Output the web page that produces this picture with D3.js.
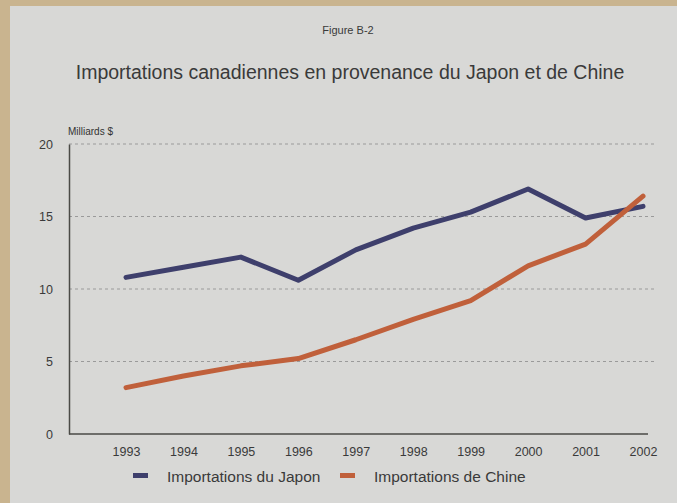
<!DOCTYPE html>
<html>
<head>
<meta charset="utf-8">
<script src="https://cdn.jsdelivr.net/npm/d3@7"></script>
<style>
  body { margin: 0; background: #c9b48f; }
  svg { display: block; font-family: "Liberation Sans", Arial, sans-serif; }
</style>
</head>
<body>
<div id="chart"></div>
<script>
let years = [1993, 1994, 1995, 1996, 1997, 1998, 1999, 2000, 2001, 2002];
let japon = [10.8, 11.5, 12.2, 10.6, 12.7, 14.2, 15.3, 16.9, 14.9, 15.7];
let chine = [3.2, 4.0, 4.7, 5.2, 6.5, 7.9, 9.2, 11.6, 13.1, 16.4];
let yTicks = [0, 5, 10, 15, 20];
let seriesNames = ["Importations du Japon", "Importations de Chine"];
let seriesColors = ["#3e3f6c", "#c0603b"];

let width = 677, height = 503;

let svg = d3.select("#chart").append("svg")
    .attr("width", width)
    .attr("height", height);

//paper, with the tan edge of the photo showing on top and left
svg.append("rect")
    .attr("x", 10).attr("y", 6)
    .attr("width", width - 10).attr("height", height - 6)
    .attr("fill", "#d8d8d6");

svg.append("text")
    .attr("x", 348).attr("y", 34)
    .attr("text-anchor", "middle")
    .attr("font-size", 11)
    .attr("fill", "#3a3a3a")
    .text("Figure B-2");

svg.append("text")
    .attr("x", 350).attr("y", 79)
    .attr("text-anchor", "middle")
    .attr("font-size", 19.5)
    .attr("fill", "#3a3a3a")
    .text("Importations canadiennes en provenance du Japon et de Chine");

let x = d3.scalePoint()
    .domain(years)
    .range([126, 643]);

let y = d3.scaleLinear()
    .domain([0, 20])
    .range([434, 144]);

//gridlines
svg.append("g")
    .selectAll("line")
    .data(yTicks.filter(d => d > 0))
    .enter()
    .append("line")
    .attr("x1", 69).attr("x2", 655)
    .attr("y1", d => y(d)).attr("y2", d => y(d))
    .attr("stroke", "#9a9a9a")
    .attr("stroke-width", 1)
    .attr("stroke-dasharray", "3,3");

//y axis
let yAxis = svg.append("g")
    .attr("transform", "translate(69,0)")
    .call(d3.axisLeft(y).tickValues(yTicks).tickSize(0).tickPadding(16));
yAxis.select(".domain").attr("stroke", "#4a4a46").attr("stroke-width", 1.5);
yAxis.selectAll("text").attr("font-size", 12.5).attr("fill", "#3a3a3a")
    .attr("font-family", "Liberation Sans, Arial, sans-serif");

//x axis
let xAxis = svg.append("g")
    .attr("transform", "translate(0,434)")
    .call(d3.axisBottom(x).tickSize(0).tickPadding(13).tickFormat(d3.format("d")));
xAxis.select(".domain").attr("d", "M69,0H648").attr("stroke", "#4a4a46").attr("stroke-width", 1.5);
xAxis.selectAll("text").attr("font-size", 12.5).attr("fill", "#3a3a3a")
    .attr("font-family", "Liberation Sans, Arial, sans-serif");

svg.append("text")
    .attr("x", 68).attr("y", 135)
    .attr("font-size", 10)
    .attr("fill", "#333")
    .text("Milliards $");

//lines
let line = d3.line()
    .x((d, i) => x(years[i]))
    .y(d => y(d));

[japon, chine].forEach(function(s, i) {
    svg.append("path")
        .datum(s)
        .attr("d", line)
        .attr("fill", "none")
        .attr("stroke", seriesColors[i])
        .attr("stroke-width", 5)
        .attr("stroke-linejoin", "round")
        .attr("stroke-linecap", "round");
});

//legend
let legendX = [133, 340];
let legend = svg.append("g")
    .selectAll("g")
    .data(seriesNames)
    .enter()
    .append("g")
    .attr("transform", (d, i) => `translate(${legendX[i]},476)`);

legend.append("rect")
    .attr("x", 0).attr("y", -3)
    .attr("width", 15).attr("height", 5)
    .attr("fill", (d, i) => seriesColors[i]);

legend.append("text")
    .attr("x", 34).attr("y", 6)
    .attr("font-size", 15.5)
    .attr("fill", "#3a3a3a")
    .text(d => d);
</script>
</body>
</html>
